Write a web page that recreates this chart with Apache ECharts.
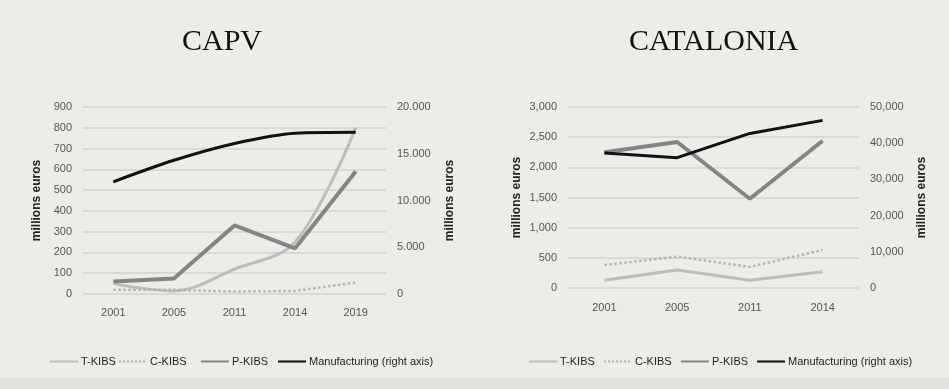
<!DOCTYPE html>
<html><head><meta charset="utf-8">
<script src="https://cdn.jsdelivr.net/npm/echarts@6/dist/echarts.min.js"></script>
<style>html,body{margin:0;padding:0;background:#eeece9;}#c{width:949px;height:389px;}</style>
</head><body><div id="c"></div>
<script>
// ---- data ----
const capvYears = ['2001', '2005', '2011', '2014', '2019'];
const capvT = [50, 15, 120, 250, 800];
const capvC = [20, 20, 12, 15, 55];
const capvP = [60, 75, 330, 220, 590];
const capvM = [12000, 14300, 16100, 17200, 17300];

const catYears = ['2001', '2005', '2011', '2014'];
const catT = [130, 300, 130, 270];
const catC = [380, 520, 350, 630];
const catP = [2250, 2420, 1480, 2440];
const catM = [37300, 36000, 42700, 46300];

const seriesNames = ['T-KIBS', 'C-KIBS', 'P-KIBS', 'Manufacturing (right axis)'];
const titles = ['CAPV', 'CATALONIA'];

const sans = "'Liberation Sans', Arial, sans-serif";

function fmt(sep) {
  return v => String(v).replace(/\B(?=(\d{3})+(?!\d))/g, sep);
}

const styles = {
  'T-KIBS': { color: '#bdbdbd', width: 3, type: 'solid' },
  'C-KIBS': { color: '#b3b3b3', width: 2.5, type: 'dotted' },
  'P-KIBS': { color: '#858585', width: 4, type: 'solid' },
  'Manufacturing (right axis)': { color: '#111111', width: 3, type: 'solid' }
};

function mk(name, data, xi, yi, smooth) {
  const s = styles[name];
  return {
    name: name, type: 'line', data: data, xAxisIndex: xi, yAxisIndex: yi,
    symbol: 'none', smooth: smooth || false,
    lineStyle: { color: s.color, width: s.width, type: s.type },
    itemStyle: { color: s.color }
  };
}

const yName = {
  name: 'millions euros', nameLocation: 'middle', nameRotate: 90,
  nameTextStyle: { fontFamily: sans, fontWeight: 'bold', fontSize: 12, color: '#222' }
};
const tickLabel = (f) => ({ fontFamily: sans, fontSize: 11, color: '#555', margin: 11, formatter: f });

// legend item positions (left edge of each item)
const legendLeft = [[44, 113, 195, 272], [523, 598, 675, 751]];
const legends = [];
legendLeft.forEach(row => row.forEach((x, i) => {
  legends.push({
    data: [seriesNames[i]], left: x, top: 351, itemWidth: 28, itemHeight: 4, itemGap: 0,
    itemStyle: { opacity: 0 },
    textStyle: { fontFamily: sans, fontSize: 11, color: '#222', padding: [0, 0, 0, -2] }
  });
}));

const chart = echarts.init(document.getElementById('c'), null, { renderer: 'canvas' });
chart.setOption({
  backgroundColor: '#eeece9',
  animation: false,
  graphic: [
    { type: 'rect', shape: { x: 0, y: 378, width: 949, height: 11 }, style: { fill: '#e4e2df' } },
    { type: 'text', left: 182, top: 27, style: { text: titles[0], font: "30px 'Liberation Serif', 'DejaVu Serif', serif", fill: '#111' } },
    { type: 'text', left: 629, top: 27, style: { text: titles[1], font: "30px 'Liberation Serif', 'DejaVu Serif', serif", fill: '#111' } }
  ],
  legend: legends,
  grid: [
    { left: 83, right: 563, top: 107, bottom: 95 },
    { left: 568, right: 90, top: 107, bottom: 101 }
  ],
  xAxis: [
    { type: 'category', gridIndex: 0, data: capvYears, boundaryGap: true,
      axisLine: { show: false }, axisTick: { show: false },
      axisLabel: { fontFamily: sans, fontSize: 11, color: '#555', margin: 13 } },
    { type: 'category', gridIndex: 1, data: catYears, boundaryGap: true,
      axisLine: { show: false }, axisTick: { show: false },
      axisLabel: { fontFamily: sans, fontSize: 11, color: '#555', margin: 14 } }
  ],
  yAxis: [
    Object.assign({ type: 'value', gridIndex: 0, position: 'left', min: 0, max: 900, interval: 100, nameGap: 40,
      axisLine: { show: false }, axisTick: { show: false },
      splitLine: { lineStyle: { color: '#d4d2cf', width: 1.5 } },
      axisLabel: tickLabel(v => String(v)) }, yName),
    Object.assign({ type: 'value', gridIndex: 0, position: 'right', min: 0, max: 20000, interval: 5000, nameGap: 58,
      axisLine: { show: false }, axisTick: { show: false }, splitLine: { show: false },
      axisLabel: tickLabel(fmt('.')) }, yName),
    Object.assign({ type: 'value', gridIndex: 1, position: 'left', min: 0, max: 3000, interval: 500, nameGap: 45,
      axisLine: { show: false }, axisTick: { show: false },
      splitLine: { lineStyle: { color: '#d4d2cf', width: 1.5 } },
      axisLabel: tickLabel(fmt(',')) }, yName),
    Object.assign({ type: 'value', gridIndex: 1, position: 'right', min: 0, max: 50000, interval: 10000, nameGap: 57,
      axisLine: { show: false }, axisTick: { show: false }, splitLine: { show: false },
      axisLabel: tickLabel(fmt(',')) }, yName)
  ],
  series: [
    mk('T-KIBS', capvT, 0, 0, 0.35),
    mk('C-KIBS', capvC, 0, 0),
    mk('P-KIBS', capvP, 0, 0),
    mk('Manufacturing (right axis)', capvM, 0, 1, 0.3),
    mk('T-KIBS', catT, 1, 2),
    mk('C-KIBS', catC, 1, 2),
    mk('P-KIBS', catP, 1, 2),
    mk('Manufacturing (right axis)', catM, 1, 3)
  ]
});
</script></body></html>
